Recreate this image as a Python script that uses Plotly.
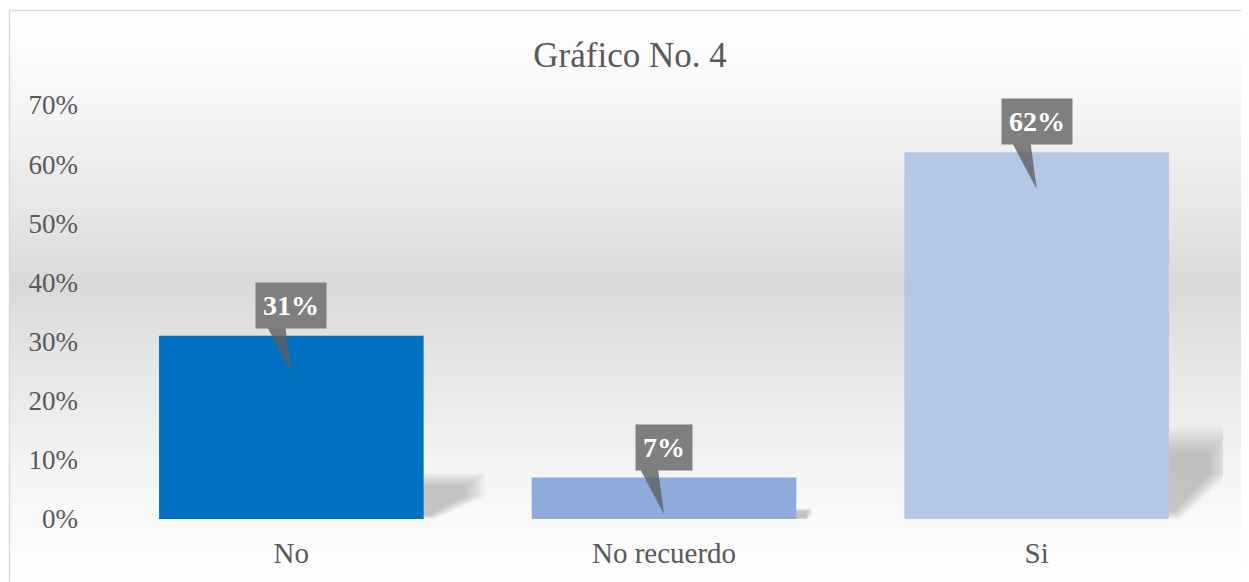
import plotly.graph_objects as go

categories = ["No", "No recuerdo", "Si"]
values = [0.31, 0.07, 0.62]
labels = ["31%", "7%", "62%"]
bar_colors = ["#0070C0", "#8FAADC", "#B4C7E7"]
y_ticks = [0, 0.1, 0.2, 0.3, 0.4, 0.5, 0.6, 0.7]

# page body has an 8px margin, so the figure is shifted by 8px
OFF = 8
W, H = 1249 - OFF, 582 - OFF
ml, mr, mt = 105 - OFF, 26, 105 - OFF
mb = H - (519 - OFF)
pw, ph = W - ml - mr, H - mt - mb

def px_x(p):
    return (p - OFF - ml) / pw

def px_y(p):
    return (H - mb - (p - OFF)) / ph

fig = go.Figure()
fig.add_trace(go.Bar(x=categories, y=values, marker_color=bar_colors,
                     marker_line_width=0, width=0.71, hoverinfo="skip"))

shapes = []
# background gradient white -> grey -> white, drawn as thin bands
top, bottom = 10, 590
n = 100
for i in range(n):
    y0 = top + (bottom - top) * i / n
    y1 = top + (bottom - top) * (i + 1) / n
    t = (i + 0.5) / n
    peak = 0.47
    f = t / peak if t < peak else (1 - t) / (1 - peak)
    f = f ** 1.3
    g = int(round(255 - 38 * f))
    shapes.append(dict(type="rect", xref="paper", yref="paper", layer="below",
                       x0=px_x(9), x1=px_x(1260), y0=px_y(y1 + 0.5), y1=px_y(y0),
                       fillcolor=f"rgb({g},{g},{g})", line_width=0))
# chart border
shapes.append(dict(type="rect", xref="paper", yref="paper", layer="below",
                   x0=px_x(9.5), x1=px_x(1262), y0=px_y(595), y1=px_y(10.5),
                   line=dict(color="#D9D9D9", width=1.5), fillcolor="rgba(0,0,0,0)"))

# soft perspective shadows beside bars
half = 0.355
for i, v in enumerate(values):
    h = v * 0.25
    dx = min(0.165, v * 0.6)
    xr = i + half
    for k in range(9):
        ex = dx * 0.042 * k
        ey = h * 0.035 * k
        shapes.append(dict(type="path", xref="x", yref="y", layer="below",
                           path=(f"M {xr - 0.03} {ey * 0.3} L {xr - 0.03} {h - ey} "
                                 f"L {xr + dx - ex} {h - ey} L {xr + dx - ex} {h * 0.5} "
                                 f"L {xr + 0.03 - ex * 0.3} {ey * 0.3} Z"),
                           fillcolor="rgba(110,110,110,0.05)", line_width=0))

# callout pointers
for i, v in enumerate(values):
    shapes.append(dict(type="path", xref="x", yref="y", layer="above",
                       path=(f"M {i - 0.064} {v + 0.014} L {i - 0.016} {v + 0.014} "
                             f"L {i} {v - 0.062} Z"),
                       fillcolor="rgba(95,95,95,0.8)", line_width=0))

annotations = []
for c, v, t in zip(categories, values, labels):
    annotations.append(dict(x=c, y=v + 0.012, xref="x", yref="y", text=f"<b>{t}</b>",
                            showarrow=False, yanchor="bottom", xanchor="center",
                            bgcolor="#7F7F7F", borderpad=7,
                            font=dict(family="Liberation Serif", size=28, color="white")))

fig.update_layout(
    width=W, height=H,
    margin=dict(l=ml, r=mr, t=mt, b=mb),
    paper_bgcolor="white", plot_bgcolor="rgba(0,0,0,0)",
    title=dict(text="Gráfico No. 4", x=px_x(630), xref="paper", xanchor="center",
               y=1 - (55 - OFF) / H, yanchor="middle",
               font=dict(family="Liberation Serif", size=35, color="#595959")),
    shapes=shapes, annotations=annotations,
    showlegend=False,
    font=dict(family="Liberation Serif", color="#595959"),
)
fig.update_xaxes(range=[-0.5, 2.5], automargin=False, showgrid=False, showline=False,
                 zeroline=False, tickfont=dict(size=29, color="#595959"), ticks="outside",
                 ticklen=8, tickcolor="rgba(0,0,0,0)")
fig.update_yaxes(range=[0, 0.7], automargin=False, tickvals=y_ticks, tickformat=".0%",
                 showgrid=False, showline=False, zeroline=False, ticklabelstandoff=26,
                 tickfont=dict(size=27, color="#595959"))

fig.write_html("out.html")
